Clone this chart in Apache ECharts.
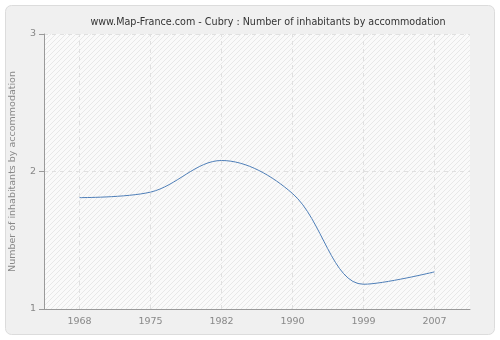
<!DOCTYPE html>
<html>
<head>
<meta charset="utf-8">
<script src="https://cdn.jsdelivr.net/npm/echarts@6/dist/echarts.min.js"></script>
<style>
  html, body { margin: 0; padding: 0; background: #ffffff; }
  #chart { width: 500px; height: 340px; }
</style>
</head>
<body>
<div id="chart"></div>
<script>
// Census years and average number of inhabitants per dwelling
const years = ['1968', '1975', '1982', '1990', '1999', '2007'];
const inhabitants = [1.81, 1.85, 2.08, 1.84, 1.18, 1.27];
const yTicks = [1, 2, 3];

// Light diagonal hatching for the plotting area
function hatchPattern() {
  const s = 5;
  const c = document.createElement('canvas');
  c.width = s; c.height = s;
  const g = c.getContext('2d');
  g.fillStyle = '#fafafa';
  g.fillRect(0, 0, s, s);
  g.strokeStyle = '#e8e8e8';
  g.lineWidth = 1;
  g.beginPath();
  g.moveTo(0, s); g.lineTo(s, 0);
  g.moveTo(-s, s); g.lineTo(s, -s);
  g.moveTo(0, 2 * s); g.lineTo(2 * s, 0);
  g.stroke();
  return { image: c, repeat: 'repeat' };
}

const chart = echarts.init(document.getElementById('chart'), null, { renderer: 'canvas' });
const font = 'DejaVu Sans';
const gridDash = { color: '#e0e0e0', type: [4, 4], width: 1 };

chart.setOption({
  animation: false,
  backgroundColor: '#ffffff',
  graphic: [{
    type: 'rect',
    z: -10,
    shape: { x: 5.5, y: 5.5, width: 489, height: 329, r: 6 },
    style: { fill: '#f0f0f0', stroke: '#dcdcdc', lineWidth: 1 },
    silent: true
  }],
  title: {
    text: 'www.Map-France.com - Cubry : Number of inhabitants by accommodation',
    left: 263,
    top: 12,
    textAlign: 'center',
    textStyle: { fontFamily: font, fontSize: 9.6, fontWeight: 'normal', color: '#333333' }
  },
  grid: {
    left: 40, right: 30, top: 34, bottom: 31,
    show: true,
    backgroundColor: hatchPattern(),
    borderWidth: 0
  },
  xAxis: {
    type: 'category',
    data: years,
    boundaryGap: true,
    axisLine: { lineStyle: { color: '#999999', width: 1 } },
    axisTick: { alignWithLabel: true, length: 5, lineStyle: { color: '#999999' } },
    axisLabel: { fontFamily: font, fontSize: 9.5, color: '#888888', margin: 8 },
    splitLine: { show: false }
  },
  yAxis: {
    type: 'value',
    min: yTicks[0],
    max: yTicks[yTicks.length - 1],
    interval: 1,
    name: 'Number of inhabitants by accommodation',
    nameLocation: 'middle',
    nameGap: 26,
    nameTextStyle: { fontFamily: font, fontSize: 9.5, color: '#888888' },
    axisLine: { show: true, lineStyle: { color: '#999999', width: 1 } },
    axisTick: { show: true, length: 5, lineStyle: { color: '#999999' } },
    axisLabel: { fontFamily: font, fontSize: 9.5, color: '#888888', margin: 8 },
    splitLine: { show: true, lineStyle: gridDash }
  },
  series: [{
    type: 'line',
    data: inhabitants,
    smooth: 0.35,
    symbol: 'none',
    lineStyle: { color: '#4f7fb8', width: 1 },
    // vertical dashed guides through each census year
    markLine: {
      silent: true,
      symbol: 'none',
      label: { show: false },
      lineStyle: gridDash,
      z: 1,
      data: years.map(y => ({ xAxis: y }))
    }
  }]
});
</script>
</body>
</html>
